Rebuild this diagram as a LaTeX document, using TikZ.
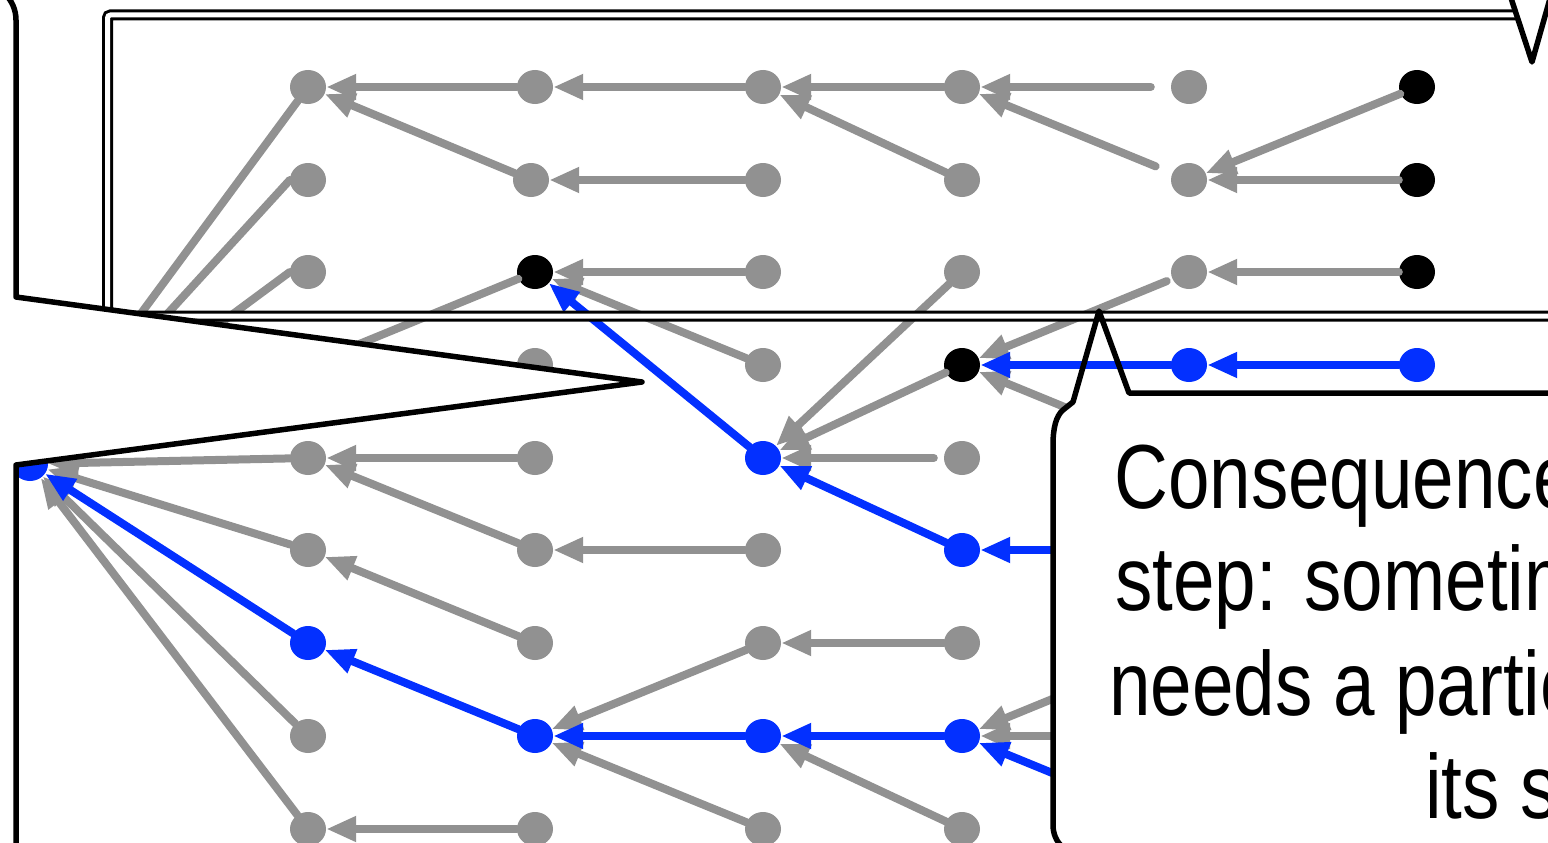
\documentclass[tikz,border=0pt]{standalone}
\usepackage{fontspec}
\newfontfamily\narrowfont[FakeStretch=0.82]{Liberation Sans}
\usetikzlibrary{shapes.geometric,arrows.meta}
\definecolor{gcol}{RGB}{145,145,145}
\definecolor{bcol}{RGB}{3,48,255}
\begin{document}
\begin{tikzpicture}[x=1pt,y=-1pt,
  dot/.style={ellipse, minimum width=36pt, minimum height=34pt, inner sep=0pt, draw=none},
  gdot/.style={dot, fill=gcol},
  bdot/.style={dot, fill=bcol},
  kdot/.style={dot, fill=black},
  ge/.style={draw=gcol, line width=8pt, line cap=round, -{Triangle[length=30pt,width=24pt]}},
  be/.style={ge, draw=bcol},
  cl/.style={draw=black, line width=5.5pt, line join=round},
  dbl/.style={draw=black, line width=3pt, double=white, double distance=5pt, rounded corners=3pt},
  txt/.style={font=\narrowfont\fontsize{91}{103}\selectfont, inner sep=0pt, anchor=base west}]
\useasboundingbox (0,0) rectangle (1548,843);
\clip (0,0) rectangle (1548,843);
% ---------- nodes ----------
\node[bdot] (n0) at (30,464) {};
\node[gdot] (n11) at (308,87) {};
\node[gdot] (n12) at (308,180) {};
\node[gdot] (n13) at (308,272) {};
\coordinate (n14) at (308,365);
\node[gdot] (n15) at (308,458) {};
\node[gdot] (n16) at (308,550) {};
\node[bdot] (n17) at (308,643) {};
\node[gdot] (n18) at (308,736) {};
\node[gdot] (n19) at (308,829) {};
\node[gdot] (n21) at (535,87) {};
\node[gdot] (n22) at (531,180) {};
\node[kdot] (n23) at (535,272) {};
\node[gdot] (n24) at (535,365) {};
\node[gdot] (n25) at (535,458) {};
\node[gdot] (n26) at (535,550) {};
\node[gdot] (n27) at (535,643) {};
\node[bdot] (n28) at (535,736) {};
\node[gdot] (n29) at (535,829) {};
\node[gdot] (n31) at (763,87) {};
\node[gdot] (n32) at (763,180) {};
\node[gdot] (n33) at (763,272) {};
\node[gdot] (n34) at (763,365) {};
\node[bdot] (n35) at (763,458) {};
\node[gdot] (n36) at (763,550) {};
\node[gdot] (n37) at (763,643) {};
\node[bdot] (n38) at (763,736) {};
\node[gdot] (n39) at (763,829) {};
\node[gdot] (n41) at (962,87) {};
\node[gdot] (n42) at (962,180) {};
\node[gdot] (n43) at (962,272) {};
\node[kdot] (n44) at (962,365) {};
\node[gdot] (n45) at (962,458) {};
\node[bdot] (n46) at (962,550) {};
\node[gdot] (n47) at (962,643) {};
\node[bdot] (n48) at (962,736) {};
\node[gdot] (n49) at (962,829) {};
\node[gdot] (n51) at (1189,87) {};
\node[gdot] (n52) at (1189,180) {};
\node[gdot] (n53) at (1189,272) {};
\node[bdot] (n54) at (1189,365) {};
\coordinate (n55) at (1189,458);
\coordinate (n56) at (1189,550);
\coordinate (n57) at (1189,643);
\coordinate (n58) at (1189,736);
\coordinate (n59) at (1189,829);
\node[kdot] (n61) at (1417,87) {};
\node[kdot] (n62) at (1417,180) {};
\node[kdot] (n63) at (1417,272) {};
\node[bdot] (n64) at (1417,365) {};
% ---------- gray edges ----------
\draw[ge] (n21) -- (n11);
\draw[ge] (n22) -- (n11);
\draw[ge] (n31) -- (n21);
\draw[ge] (n32) -- (n22);
\draw[ge] (n41) -- (n31);
\draw[ge] (n42) -- (n31);
\draw[ge, shorten <=20pt] (n51) -- (n41);
\draw[ge, shorten <=18pt] (n52) -- (n41);
\draw[ge] (n61) -- (n52);
\draw[ge] (n62) -- (n52);
\draw[ge] (n63) -- (n53);
\draw[ge, shorten <=6pt] (n53) -- (n44);
\draw[ge] (n43) -- (n35);
\draw[ge] (n33) -- (n23);
\draw[ge] (n34) -- (n23);
\draw[ge] (n23) -- (n14);
\draw[ge] (n11) -- (n0);
\draw[ge] (n12.west) -- (n0);
\draw[ge] (n13.west) -- (n0);
\draw[ge] (n44) -- (n35);
\draw[ge] (n55) -- (n44);
\draw[ge, shorten <=10pt] (n45) -- (n35);
\draw[ge] (n25) -- (n15);
\draw[ge] (n26) -- (n15);
\draw[ge] (n15) -- (n0);
\draw[ge] (n16) -- (n0);
\draw[ge] (n18) -- (n0);
\draw[ge] (n19) -- (n0);
\draw[ge] (n36) -- (n26);
\draw[ge] (n27) -- (n16);
\draw[ge] (n37) -- (n28);
\draw[ge] (n39) -- (n28);
\draw[ge] (n49) -- (n38);
\draw[ge] (n47) -- (n37);
\draw[ge] (n29) -- (n19);
\draw[ge] (n57) -- (n48);
\draw[ge] (n58) -- (n48);
% ---------- blue edges ----------
\draw[be] (n54) -- (n44);
\draw[be] (n64) -- (n54);
\draw[be] (n35) -- (n23);
\draw[be] (n46) -- (n35);
\draw[be] (n17) -- (n0);
\draw[be] (n28) -- (n17);
\draw[be] (n38) -- (n28);
\draw[be] (n48) -- (n38);
\draw[be] (n59) -- (n48);
\draw[be] (n56) -- (n46);
% ---------- double frame ----------
\draw[dbl] (107.5,15) rectangle (1640,316);
% ---------- left callout ----------
\path[fill=white] (-40,-16) -- (-20,-16) .. controls (0,-16) and (16,0) .. (16,20)
  -- (16,297) -- (642,382) -- (16,465) -- (16,870) -- (-40,870) -- cycle;
\draw[cl] (-20,-16) .. controls (0,-16) and (16,0) .. (16,20)
  -- (16,297) -- (642,382) -- (16,465) -- (16,870);
% ---------- top-right callout pointer ----------
\path[fill=white] (1510,-5) -- (1532,62) -- (1560,62) -- (1560,-5) -- cycle;
\draw[cl] (1510,-5) -- (1532,62) -- (1551,-5);
% ---------- bottom-right callout ----------
\path[fill=white] (1073,402) -- (1129,393) -- (1570,393) -- (1570,870) -- (1053,870)
  -- (1053,445) .. controls (1053,428) and (1056,416) .. (1063,410) -- cycle;
\draw[cl] (1570,393) -- (1129,393) -- (1099,311) -- (1073,402) -- (1063,410)
  .. controls (1056,416) and (1053,428) .. (1053,445) -- (1053,825)
  .. controls (1053,842) and (1066,855) .. (1083,855);
\node[txt] (t1) at (1114,508) {Consequence};
\node[txt] (t2) at (1115,610) {step: sometim};
\node[txt] (t3) at (1109,715) {needs a partic};
\node[txt] (t4) at (1425,818) {its s};
\end{tikzpicture}
\end{document}
